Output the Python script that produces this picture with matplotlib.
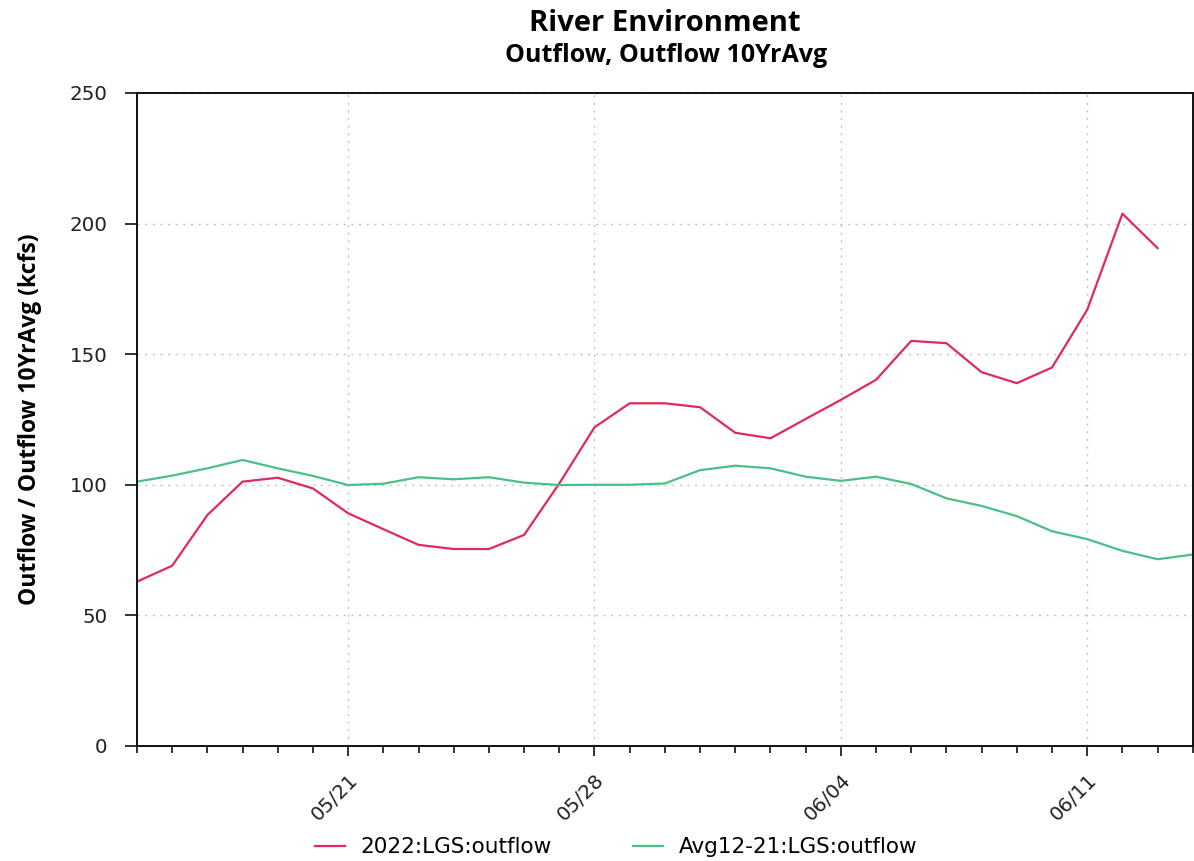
import pandas as pd
import matplotlib
matplotlib.use('Agg')
import matplotlib.pyplot as plt
import matplotlib.dates as mdates

plt.rcParams['font.family'] = ['DejaVu Sans']

# daily values, kcfs
dates_2022 = pd.date_range('2022-05-15', '2022-06-13', freq='D')
outflow_2022 = [62.9, 69.0, 88.4, 101.2, 102.7, 98.6, 89.1, 83.0, 77.0, 75.4,
                75.4, 80.8, 100.5, 122.0, 131.2, 131.2, 129.7, 119.9, 117.8, 125.2,
                132.5, 140.2, 155.1, 154.2, 143.1, 138.9, 144.9, 167.0, 203.8, 190.6]

dates_avg = pd.date_range('2022-05-15', '2022-06-14', freq='D')
outflow_avg = [101.2, 103.5, 106.3, 109.5, 106.3, 103.4, 99.9, 100.4, 102.9, 102.1,
               102.9, 100.8, 99.9, 100.0, 100.0, 100.5, 105.6, 107.3, 106.3, 103.1,
               101.5, 103.1, 100.3, 94.8, 91.9, 88.0, 82.2, 79.2, 74.7, 71.5, 73.3]

label_2022 = '2022:LGS:outflow'
label_avg = 'Avg12-21:LGS:outflow'
yticks = [0, 50, 100, 150, 200, 250]

fig = plt.figure(figsize=(11.94, 8.61), dpi=100)
ax = fig.add_axes([0.1147, 0.1336, 0.8843, 0.7584])

ax.plot(dates_2022, outflow_2022, color='#dc2b5c', lw=1.6, label=label_2022)
ax.plot(dates_avg, outflow_avg, color='#4cbf87', lw=1.6, label=label_avg)

ax.set_xlim(pd.Timestamp('2022-05-15'), pd.Timestamp('2022-06-14'))
ax.set_ylim(0, 250)
ax.set_yticks(yticks)
ax.xaxis.set_major_locator(mdates.DayLocator(bymonthday=[4, 11, 21, 28]))
ax.xaxis.set_minor_locator(mdates.DayLocator())
ax.xaxis.set_major_formatter(mdates.DateFormatter('%m/%d'))
plt.setp(ax.get_xticklabels(), rotation=45, ha='right', rotation_mode='anchor')

ax.tick_params(axis='both', which='major', direction='out', width=1.3,
               labelsize=14.3, colors='#222222')
ax.tick_params(axis='y', which='major', length=9, pad=12)
ax.tick_params(axis='x', which='major', length=7.5, pad=10)
ax.tick_params(axis='x', which='minor', direction='out', length=5, width=1.3, colors='#222222')
for s in ax.spines.values():
    s.set_linewidth(1.4)
    s.set_color('#111111')

ax.grid(True, which='major', linestyle=(0, (1.5, 4)), color='#c4c4c4', lw=1)

ax.set_ylabel('Outflow / Outflow 10YrAvg (kcfs)', fontsize=16.5, fontweight='bold',
              family='Open Sans', labelpad=20)

fig.text(0.557, 0.973, 'River Environment', ha='center', va='center',
         fontsize=21, fontweight='bold', family='Open Sans')
fig.text(0.558, 0.936, 'Outflow, Outflow 10YrAvg', ha='center', va='center',
         fontsize=18, fontweight='bold', family='Open Sans')

fig.legend(loc='center', bbox_to_anchor=(0.516, 0.016), ncol=2, frameon=False,
           fontsize=15.5, handlelength=1.4, handletextpad=0.75, columnspacing=3.75)

fig.savefig('out.png', dpi=100)
